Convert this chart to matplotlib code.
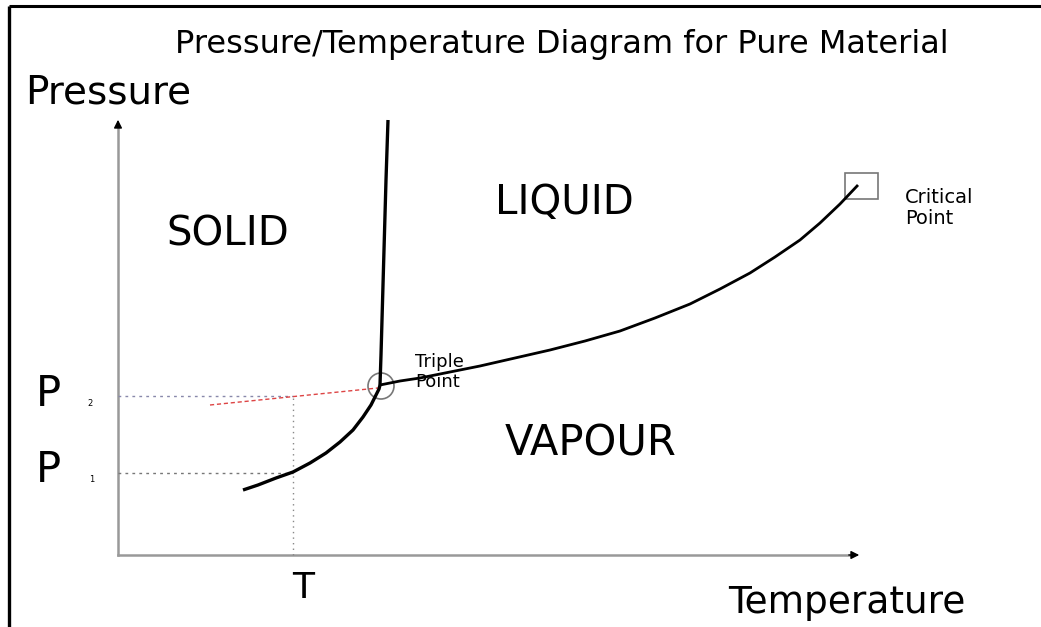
import matplotlib.pyplot as plt
from matplotlib.patches import Circle, Rectangle

# diagram units: T measured from the origin of the axes, P measured upward
sub_T = [125, 140, 158, 175, 192, 208, 222, 235, 245, 253, 258, 261, 262]
sub_P = [65, 70, 77, 83, 92, 102, 113, 125, 138, 150, 160, 166, 170]

melt_T = [262, 263, 264, 265, 266, 267, 268, 269, 270]
melt_P = [170, 200, 235, 270, 305, 340, 375, 405, 435]

vap_T = [262, 282, 302, 332, 362, 397, 432, 467, 502, 537, 572, 602, 632,
         657, 682, 702, 722, 740]
vap_P = [170, 174, 177, 183, 189, 197, 205, 214, 224, 237, 251, 266, 282,
         298, 315, 332, 351, 370]

triple = (263, 169)
critical = (743, 368)
P1, P2, T_mark = 82, 159, 175
red_T = [92, 260]
red_P = [150, 167]

fig = plt.figure(figsize=(10.41, 6.27), dpi=100)
ax = fig.add_axes([0, 0, 1, 1])
ax.set_xlim(-118, 1041 - 118)
ax.set_ylim(555 - 627, 555)
ax.axis('off')
font = 'DejaVu Sans'

# frame of the picture
ax.plot([-109, -109], [-72, 549], color='black', lw=2.4, solid_capstyle='butt')
ax.plot([-109, 923], [549, 549], color='black', lw=2.2, solid_capstyle='butt')

# axes with arrows
ax.plot([0, 0], [0, 430], color='#999999', lw=1.8)
ax.plot([0, 735], [0, 0], color='#999999', lw=1.8)
ax.annotate('', xy=(0, 438), xytext=(0, 425),
            arrowprops=dict(arrowstyle='-|>', color='black', lw=1, mutation_scale=12))
ax.annotate('', xy=(744, 0), xytext=(728, 0),
            arrowprops=dict(arrowstyle='-|>', color='black', lw=1, mutation_scale=12))

# guide lines
ax.plot([0, T_mark], [P2, P2], color='#8888aa', lw=1, ls=(0, (2, 3)))
ax.plot([0, T_mark], [P1, P1], color='#777777', lw=1, ls=(0, (2, 3)))
ax.plot([T_mark, T_mark], [0, P2], color='#888888', lw=1, ls=(0, (1, 3)))
ax.plot(red_T, red_P, color='#dd4444', lw=1, ls=(0, (3, 2)))

# phase boundaries
ax.plot(sub_T, sub_P, color='black', lw=2.4, solid_capstyle='butt')
ax.plot(melt_T, melt_P, color='black', lw=2.4, solid_capstyle='butt')
ax.plot(vap_T, vap_P, color='black', lw=2, solid_capstyle='butt')

ax.add_patch(Circle(triple, 13, fill=False, ec='#777777', lw=1.2))
ax.add_patch(Rectangle((critical[0] - 16, critical[1] - 12), 33, 26,
                       fill=False, ec='#777777', lw=1.2))

# text
ax.text(444, 510, 'Pressure/Temperature Diagram for Pure Material', fontsize=23,
        ha='center', va='center', family=font)
ax.text(-93, 463, 'Pressure', fontsize=28, ha='left', va='center', family=font)
ax.text(729, -48, 'Temperature', fontsize=27, ha='center', va='center', family=font)
ax.text(185, -33, 'T', fontsize=26, ha='center', va='center', family=font)
ax.text(-82, 161, 'P', fontsize=30, ha='left', va='center', family=font)
ax.text(-31, 152, '2', fontsize=6, ha='left', va='center', family=font)
ax.text(-82, 85, 'P', fontsize=30, ha='left', va='center', family=font)
ax.text(-29, 75, '1', fontsize=6, ha='left', va='center', family=font)

ax.text(110, 321, 'SOLID', fontsize=29, ha='center', va='center', family=font)
ax.text(446, 352, 'LIQUID', fontsize=29, ha='center', va='center', family=font)
ax.text(473, 112, 'VAPOUR', fontsize=30, ha='center', va='center', family=font)
ax.text(297, 183, 'Triple\nPoint', fontsize=13, ha='left', va='center',
        family=font, linespacing=1.1)
ax.text(787, 347, 'Critical\nPoint', fontsize=14, ha='left', va='center',
        family=font, linespacing=1.1)

fig.savefig('out.png', dpi=100)
